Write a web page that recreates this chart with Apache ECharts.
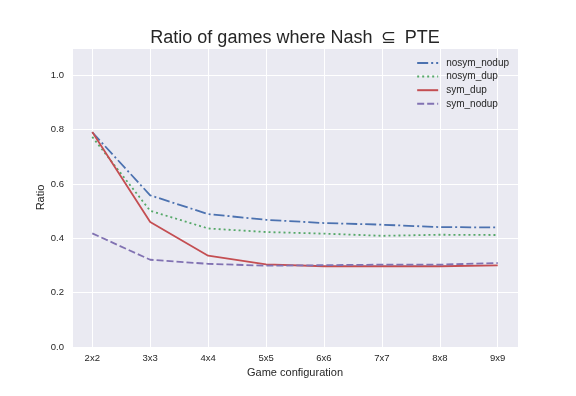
<!DOCTYPE html>
<html>
<head>
<meta charset="utf-8">
<script src="https://cdn.jsdelivr.net/npm/echarts@6/dist/echarts.min.js"></script>
<style>
  html, body { margin: 0; padding: 0; background: #fff; }
  #chart { width: 576px; height: 396px; }
</style>
</head>
<body>
<div id="chart"></div>
<script>
var categories = ['2x2', '3x3', '4x4', '5x5', '6x6', '7x7', '8x8', '9x9'];
var nosymNodup = [0.790, 0.558, 0.489, 0.468, 0.456, 0.450, 0.441, 0.440];
var nosymDup = [0.773, 0.501, 0.436, 0.423, 0.417, 0.409, 0.413, 0.412];
var symDup = [0.791, 0.460, 0.336, 0.304, 0.297, 0.297, 0.297, 0.300];
var symNodup = [0.418, 0.321, 0.306, 0.299, 0.301, 0.303, 0.303, 0.309];

var font = '"Liberation Sans", Arial, sans-serif';
var textColor = '#262626';

function pairs(vals) {
  return vals.map(function (v, i) { return [i, v]; });
}

function line(name, vals, color, dash) {
  return {
    name: name,
    type: 'line',
    data: pairs(vals),
    symbol: 'none',
    animation: false,
    color: color,
    lineStyle: { color: color, width: 1.8, type: dash }
  };
}

var chart = echarts.init(document.getElementById('chart'));
chart.setOption({
  backgroundColor: '#fff',
  textStyle: { fontFamily: font },
  title: {
    text: 'Ratio of games where Nash \u2009\u2286\u2009 PTE',
    left: 290,
    textAlign: 'center',
    top: 24,
    textStyle: { fontFamily: font, fontSize: 18, fontWeight: 'normal', color: textColor }
  },
  grid: {
    left: 72, right: 58, top: 48, bottom: 49,
    show: true, backgroundColor: '#EAEAF2', borderWidth: 0
  },
  legend: {
    orient: 'vertical',
    right: 62,
    top: 53,
    itemWidth: 21,
    itemHeight: 10,
    itemGap: 3.6,
    textStyle: { fontFamily: font, fontSize: 10, color: textColor, padding: [0, 0, 0, 3] },
    itemStyle: { opacity: 0 },
    data: ['nosym_nodup', 'nosym_dup', 'sym_dup', 'sym_nodup']
  },
  xAxis: {
    type: 'value',
    min: -0.35,
    max: 7.35,
    minInterval: 1,
    maxInterval: 1,
    name: 'Game configuration',
    nameLocation: 'middle',
    nameGap: 20,
    nameMoveOverlap: false,
    nameTextStyle: { fontFamily: font, fontSize: 11, color: textColor },
    axisLine: { show: false },
    axisTick: { show: false },
    axisLabel: {
      fontFamily: font, fontSize: 9.5, color: textColor, margin: 6,
      formatter: function (v) {
        var r = Math.round(v);
        return Math.abs(v - r) < 1e-6 && categories[r] ? categories[r] : '';
      }
    },
    splitLine: { show: true, lineStyle: { color: '#fff', width: 1 } }
  },
  yAxis: {
    type: 'value',
    min: 0,
    max: 1.1,
    interval: 0.2,
    name: 'Ratio',
    nameLocation: 'middle',
    nameGap: 26,
    nameMoveOverlap: false,
    nameTextStyle: { fontFamily: font, fontSize: 11, color: textColor },
    axisLine: { show: false },
    axisTick: { show: false },
    axisLabel: {
      fontFamily: font, fontSize: 9.5, color: textColor, margin: 8,
      showMaxLabel: false,
      formatter: function (v) { return v > 1.05 ? '' : v.toFixed(1); }
    },
    splitLine: { show: true, lineStyle: { color: '#fff', width: 1 } }
  },
  series: [
    line('nosym_nodup', nosymNodup, '#4C72B0', [11, 3, 2, 3]),
    line('nosym_dup', nosymDup, '#55A868', [2, 3]),
    line('sym_dup', symDup, '#C44E52', 'solid'),
    line('sym_nodup', symNodup, '#8172B2', [7, 3])
  ]
});
</script>
</body>
</html>
